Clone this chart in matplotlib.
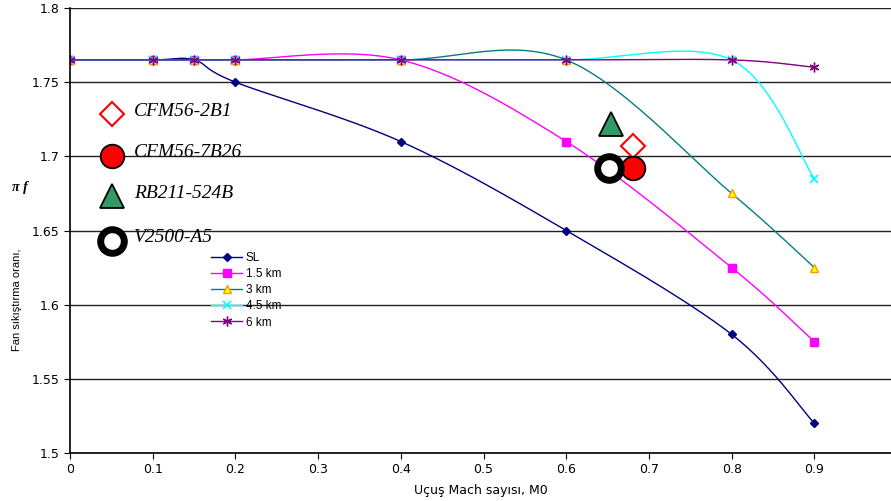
import numpy as np
import matplotlib
matplotlib.use('agg')
import matplotlib.pyplot as plt

mach = [0, 0.1, 0.15, 0.2, 0.4, 0.6, 0.8, 0.9]
sl = [1.765, 1.765, 1.765, 1.75, 1.71, 1.65, 1.58, 1.52]
km15 = [1.765, 1.765, 1.765, 1.765, 1.765, 1.71, 1.625, 1.575]
km3 = [1.765, 1.765, 1.765, 1.765, 1.765, 1.765, 1.675, 1.625]
km45 = [1.765, 1.765, 1.765, 1.765, 1.765, 1.765, 1.765, 1.685]
km6 = [1.765, 1.765, 1.765, 1.765, 1.765, 1.765, 1.765, 1.76]

engines = ['CFM56-2B1', 'CFM56-7B26', 'RB211-524B', 'V2500-A5']
eng_x = [0.681, 0.681, 0.654, 0.652]
eng_y = [1.707, 1.692, 1.722, 1.692]

XMAX = 0.9927
YMIN, YMAX = 1.5, 1.8


def excel_smooth(x, y, n=30):
    # Excel-style smoothed line: bezier with control points at 1/6 of neighbours
    # done in axes-fraction space so the shape looks right on screen
    px = np.array(x) / XMAX
    py = (np.array(y) - YMIN) / (YMAX - YMIN) * (445 / 827)
    P = np.column_stack([px, py])
    out = [P[0]]
    t = np.linspace(0, 1, n)[1:, None]
    for i in range(len(P) - 1):
        p0 = P[i - 1] if i > 0 else P[i]
        p3 = P[i + 2] if i + 2 < len(P) else P[i + 1]
        c1 = P[i] + (P[i + 1] - p0) / 6
        c2 = P[i + 1] - (p3 - P[i]) / 6
        seg = ((1 - t) ** 3) * P[i] + 3 * ((1 - t) ** 2) * t * c1 + 3 * (1 - t) * t ** 2 * c2 + t ** 3 * P[i + 1]
        out.extend(seg)
    out = np.array(out)
    return out[:, 0] * XMAX, out[:, 1] / (445 / 827) * (YMAX - YMIN) + YMIN


fig = plt.figure(figsize=(8.91, 5.01), dpi=100)
ax = fig.add_axes([70 / 891, 1 - 453 / 501, 1 - 70 / 891, 445 / 501])

plt.rcParams['font.family'] = 'Liberation Sans'

series = [
    ('SL', sl, '#000080', dict(marker='D', ms=4, mfc='#000080', mec='#000080')),
    ('1.5 km', km15, '#FF00FF', dict(marker='s', ms=5.5, mfc='#FF00FF', mec='#FF00FF')),
    ('3 km', km3, '#008080', dict(marker='^', ms=6, mfc='#FFFF00', mec='#FF9900', mew=1)),
    ('4.5 km', km45, '#00FFFF', dict(marker='x', ms=6, mec='#00FFFF', mew=1.2)),
    ('6 km', km6, '#800080', dict(marker=(6, 2, 0), ms=7, mec='#800080', mew=1)),
]

for label, ys, col, mk in series:
    sx, sy = excel_smooth(mach, ys)
    ax.plot(sx, sy, color=col, lw=1)
    ax.plot(mach, ys, ls='none', **mk)
    ax.plot([], [], color=col, lw=1, label=label, **mk)

# engine points
ax.plot(eng_x[0], eng_y[0], marker='D', ms=12, mfc='white', mec='red', mew=1.5, ls='none')
ax.plot(eng_x[1], eng_y[1], marker='o', ms=17, mfc='red', mec='black', mew=1.3, ls='none')
ax.plot(eng_x[2], eng_y[2], marker='^', ms=17, mfc='#339966', mec='black', mew=1.3, ls='none')
ax.plot(eng_x[3], eng_y[3], marker='o', ms=17, mfc='white', mec='black', mew=5, ls='none')

# engine key on the left
key_y = [1.7285, 1.7005, 1.673, 1.643]
ax.plot(0.051, key_y[0], marker='D', ms=12, mfc='white', mec='red', mew=1.5, clip_on=False)
ax.plot(0.051, key_y[1], marker='o', ms=17, mfc='red', mec='black', mew=1.3, clip_on=False)
ax.plot(0.051, key_y[2], marker='^', ms=17, mfc='#339966', mec='black', mew=1.3, clip_on=False)
ax.plot(0.051, key_y[3], marker='o', ms=17, mfc='white', mec='black', mew=5, clip_on=False)
for name, yy in zip(engines, key_y):
    ax.text(0.077, yy + 0.002, name, fontsize=14, family='Liberation Serif', style='italic',
            va='center', ha='left')

ax.set_xlim(0, XMAX)
ax.set_ylim(YMIN, YMAX)
ax.set_xticks(np.arange(0, 0.91, 0.1))
ax.set_xticklabels(['0'] + [f'{v:.1f}' for v in np.arange(0.1, 0.91, 0.1)])
ax.set_yticks(np.arange(1.5, 1.801, 0.05))
ax.set_yticklabels(['1.5', '1.55', '1.6', '1.65', '1.7', '1.75', '1.8'])
ax.tick_params(labelsize=9, length=4, direction='out', color='black')
ax.tick_params(axis='x', pad=3)
ax.yaxis.grid(True, color='#222222', lw=1)
ax.set_axisbelow(True)
for s in ['top', 'right']:
    ax.spines[s].set_visible(False)
ax.spines['left'].set_linewidth(1.2)
ax.spines['bottom'].set_linewidth(1.2)

ax.set_xlabel('Uçuş Mach sayısı, M0', fontsize=9, labelpad=6)
fig.text(17 / 891, 1 - 300 / 501, 'Fan sıkıştırma oranı,', rotation=90, fontsize=8,
         ha='center', va='center')
fig.text(20 / 891, 1 - 188 / 501, 'π f', fontsize=10, family='Liberation Serif',
         style='italic', weight='bold', ha='center', va='center')

ax.legend(loc='upper left', bbox_to_anchor=(0.165, 0.465), frameon=False, fontsize=8.5,
          handlelength=2.6, labelspacing=0.35, borderpad=0, handletextpad=0.3)

fig.savefig('out.png', dpi=100)
